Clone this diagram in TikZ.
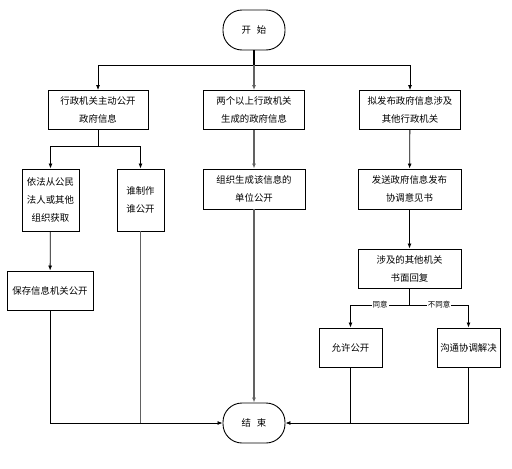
\documentclass[tikz,border=0pt]{standalone}
\usepackage{fontspec}
\newfontfamily\cjk{Noto Sans CJK SC}
\usetikzlibrary{arrows.meta}

\begin{document}
\begin{tikzpicture}[x=1pt,y=-1pt,
    every node/.style={font=\cjk\fontsize{9.4}{18}\selectfont},
    kasten/.style={draw, line width=0.9pt, align=center, inner sep=0pt},
    terminal/.style={draw, line width=0.9pt, rounded corners=19pt,
      minimum width=62pt, minimum height=40pt},
    linie/.style={line width=0.8pt},
    pfeil/.style={linie, -{Latex[length=5pt,width=4pt]}},
    grau/.style={line width=1.5pt, draw=black!62},
    marke/.style={fill=white, inner sep=1pt, font=\cjk\fontsize{7.5}{9}\selectfont}]
\useasboundingbox (0,0) rectangle (512,469);

    % Anfang und Ende
    \node[terminal] (start) at (254,30) {开\hspace{6pt}始};
    \node[terminal] (ende) at (254,423) {结\hspace{6pt}束};

    % erste Reihe
    \node[kasten, minimum width=100pt, minimum height=39pt] (aktiv) at (98,110) {行政机关主动公开\\政府信息};
    \node[kasten, minimum width=101pt, minimum height=39pt] (gemeinsam) at (254,110) {两个以上行政机关\\生成的政府信息};
    \node[kasten, minimum width=101pt, minimum height=39pt] (andere) at (410,110) {拟发布政府信息涉及\\其他行政机关};

    % zweite Reihe
    \node[kasten, minimum width=57pt, minimum height=62pt] (erhalten) at (50.5,200) {依法从公民\\法人或其他\\组织获取};
    \node[kasten, minimum width=47pt, minimum height=62pt] (ersteller) at (140.5,200) {谁制作\\谁公开};
    \node[kasten, minimum width=102pt, minimum height=40pt] (einheit) at (254,189) {组织生成该信息的\\单位公开};
    \node[kasten, minimum width=103pt, minimum height=40pt] (senden) at (409.5,189) {发送政府信息发布\\协调意见书};

    % untere Kaesten
    \node[kasten, minimum width=86pt, minimum height=39pt] (speichern) at (50,290.5) {保存信息机关公开};
    \node[kasten, minimum width=103pt, minimum height=39pt] (antwort) at (409.5,268.5) {涉及的其他机关\\书面回复};
    \node[kasten, minimum width=63pt, minimum height=39pt] (erlaubt) at (350.5,347.5) {允许公开};
    \node[kasten, minimum width=63pt, minimum height=39pt] (klaeren) at (468.5,347.5) {沟通协调解决};

    % Verzweigungen
    \coordinate (verteil) at (254,65);
    \coordinate (gabel) at (98,146);
    \coordinate (gabelb) at (409.5,305);
    \coordinate (treffen) at (140.5,423);
    \coordinate (treffenb) at (350.5,423);

    \draw[linie, line width=1.2pt] (start) -- (verteil);
    \draw[pfeil] (verteil) -| (aktiv);
    \draw[pfeil] (verteil) -| (andere);
    \draw[grau, -{Latex[length=5pt,width=4pt]}] (verteil) -- (gemeinsam);

    \draw[linie] (aktiv) -- (gabel);
    \draw[pfeil] (gabel) -| (erhalten);
    \draw[pfeil] (gabel) -| (ersteller);
    \draw[pfeil] (erhalten) -- (speichern);
    \draw[grau] (ersteller) -- (treffen);
    \draw[pfeil] (speichern) |- (ende);

    \draw[grau, -{Latex[length=5pt,width=4pt]}] (gemeinsam) -- (einheit);
    \draw[grau, -{Latex[length=5pt,width=4pt]}] (einheit) -- (ende);

    \draw[pfeil] (andere) -- (senden);
    \draw[pfeil] (senden) -- (antwort);
    \draw[linie] (antwort) -- (gabelb);
    \draw[pfeil] (gabelb) -| node[marke, pos=0.25] {同意} (erlaubt);
    \draw[pfeil] (gabelb) -| node[marke, pos=0.25] {不同意} (klaeren);
    \draw[linie] (erlaubt) -- (treffenb);
    \draw[pfeil] (klaeren) |- (ende);
\end{tikzpicture}
\end{document}
